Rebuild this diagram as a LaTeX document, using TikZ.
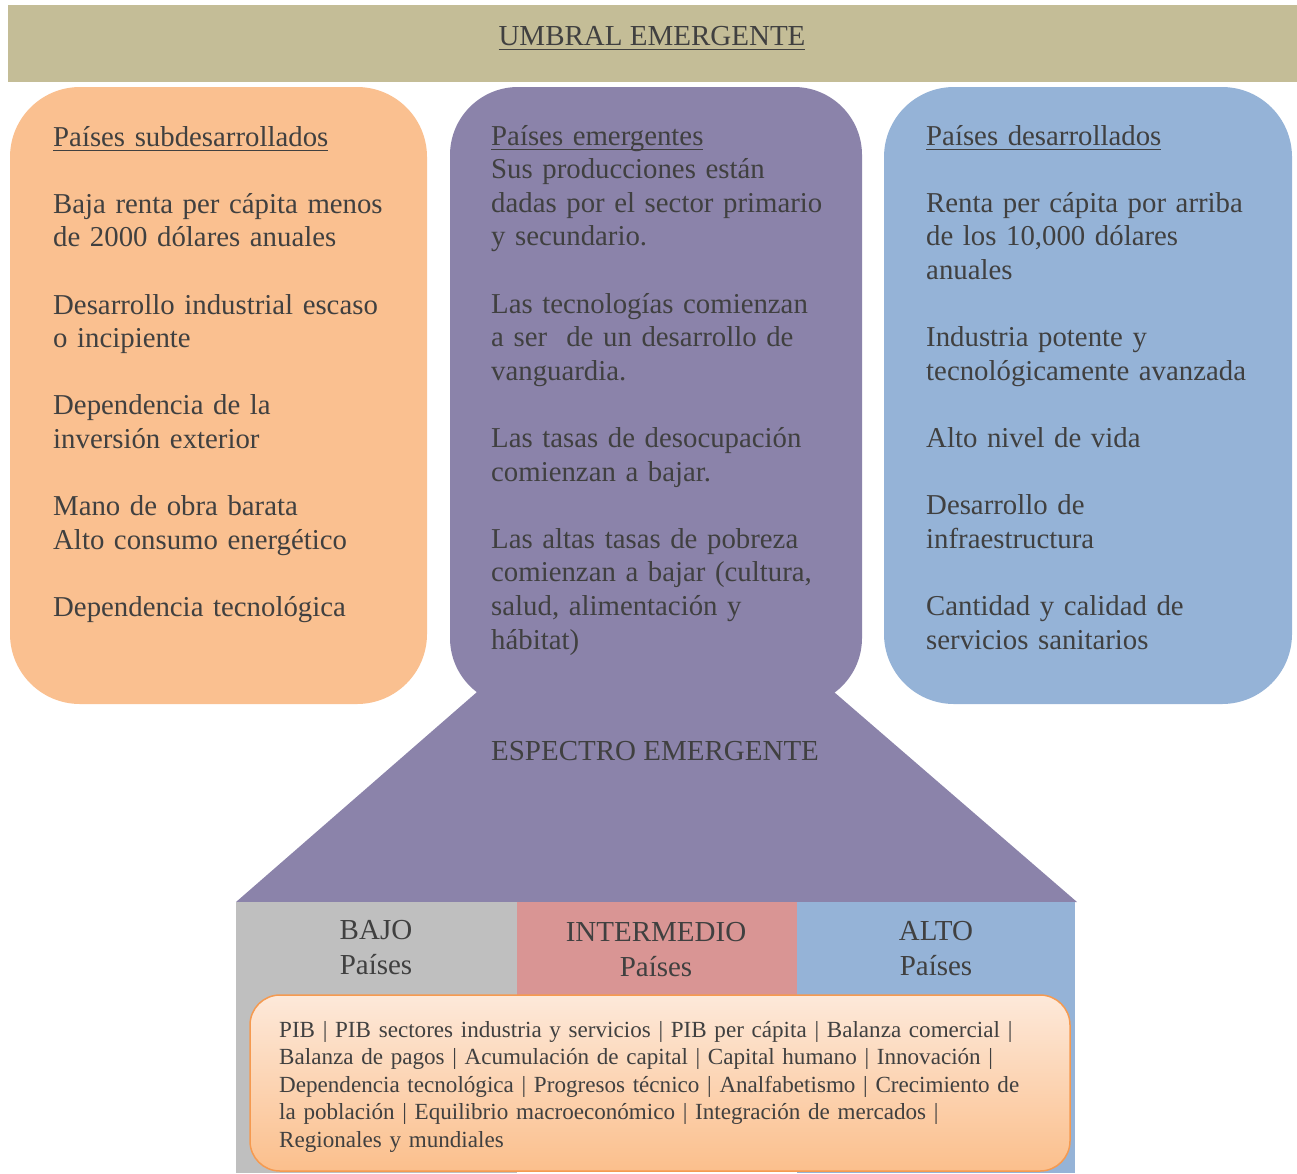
\documentclass[tikz,border=0pt]{standalone}
\usepackage{fontspec}
\setmainfont{Liberation Serif}
\definecolor{banner}{HTML}{C4BD97}
\definecolor{orangebox}{HTML}{FAC090}
\definecolor{purplebox}{HTML}{8B83AA}
\definecolor{bluebox}{HTML}{95B3D7}
\definecolor{graybox}{HTML}{BFBFBF}
\definecolor{pinkbox}{HTML}{D99594}
\definecolor{txt}{HTML}{404040}
\definecolor{pibtop}{HTML}{FDE9DA}
\definecolor{pibbot}{HTML}{FBBF8C}
\definecolor{pibedge}{HTML}{F59A50}
\newcommand\myul[1]{\mbox{\setbox0\hbox{#1}\rlap{\rule[-5pt]{\wd0}{1.4pt}}\box0}}
\tikzset{
  coltext/.style={text=txt, font=\fontsize{28.8}{33.6}\selectfont, anchor=base west,
    inner sep=0pt, align=left, text width=#1},
  ctrtext/.style={text=txt, font=\fontsize{29}{34.5}\selectfont, anchor=base,
    inner sep=0pt, align=center},
}
\begin{document}
\begin{tikzpicture}[x=1pt,y=-1pt]
\useasboundingbox (0,0) rectangle (1297,1173);
% banner
\fill[banner] (8,5) rectangle (1297,82);
\node[ctrtext] (title) at (652,45) {\myul{UMBRAL EMERGENTE}};
% three rounded boxes
\fill[orangebox, rounded corners=70pt] (10,87) rectangle (427,704);
\fill[purplebox, rounded corners=68pt] (450,87) rectangle (862,706);
\fill[bluebox, rounded corners=70pt] (884,87) rectangle (1292,704);
% trapezoid
\fill[purplebox] (477,692) -- (834,692) -- (1077,902) -- (236,902) -- cycle;
\node[ctrtext] (espectro) at (655,760) {ESPECTRO EMERGENTE};
% level rectangles
\fill[graybox] (236,902) rectangle (517,1173);
\fill[pinkbox] (517,902) rectangle (797,1000);
\fill[bluebox] (797,902) rectangle (1075,1173);
% multi-line centred nodes: base anchor is on the last line
\node[ctrtext] (bajo) at (376,974) {BAJO\\Países};
\node[ctrtext] (inter) at (656,976) {INTERMEDIO\\Países};
\node[ctrtext] (alto) at (936,975) {ALTO\\Países};
% bottom indicator box
\shade[top color=pibtop, bottom color=pibbot, draw=pibedge, line width=1.5pt,
  rounded corners=30pt] (250,995) rectangle (1070,1171);
\node[text=txt, font=\fontsize{23.1}{27.5}\selectfont, anchor=base west,
  inner sep=0pt, align=left, text width=790pt] (pib) at (279,1037)
  {PIB | PIB sectores industria y servicios | PIB per cápita | Balanza comercial |\\
   Balanza de pagos | Acumulación de capital | Capital humano | Innovación |\\
   Dependencia tecnológica | Progresos técnico | Analfabetismo | Crecimiento de\\
   la población | Equilibrio macroeconómico | Integración de mercados |\\
   Regionales y mundiales};
% column texts
\node[coltext=380pt] (left) at (53,146) {\myul{Países subdesarrollados}\\[33.6pt]
  Baja renta per cápita menos\\
  de 2000 dólares anuales\\[33.6pt]
  Desarrollo industrial escaso\\
  o incipiente\\[33.6pt]
  Dependencia de la\\
  inversión exterior\\[33.6pt]
  Mano de obra barata\\
  Alto consumo energético\\[33.6pt]
  Dependencia tecnológica};
\node[coltext=365pt] (mid) at (491,145) {\myul{Países emergentes}\\
  Sus producciones están\\
  dadas por el sector primario\\
  y secundario.\\[33.6pt]
  Las tecnologías comienzan\\
  a ser\ \ de un desarrollo de\\
  vanguardia.\\[33.6pt]
  Las tasas de desocupación\\
  comienzan a bajar.\\[33.6pt]
  Las altas tasas de pobreza\\
  comienzan a bajar (cultura,\\
  salud, alimentación y\\
  hábitat)};
\node[coltext=360pt] (right) at (926,145) {\myul{Países desarrollados}\\[33.6pt]
  Renta per cápita por arriba\\
  de los 10,000 dólares\\
  anuales\\[33.6pt]
  Industria potente y\\
  tecnológicamente avanzada\\[33.6pt]
  Alto nivel de vida\\[33.6pt]
  Desarrollo de\\
  infraestructura\\[33.6pt]
  Cantidad y calidad de\\
  servicios sanitarios};
\end{tikzpicture}
\end{document}
